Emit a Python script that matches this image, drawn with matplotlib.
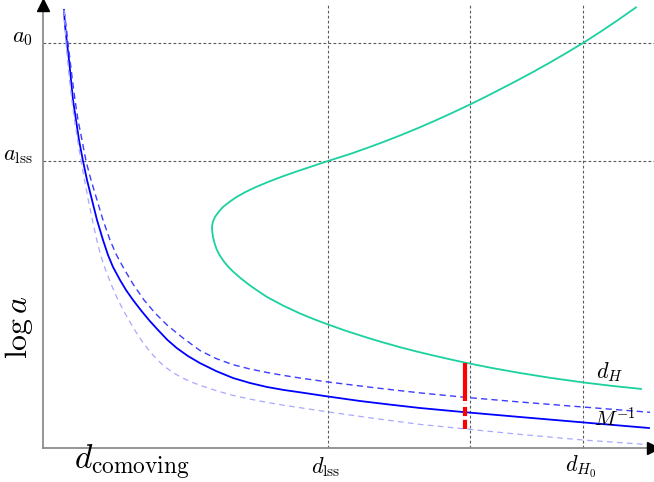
import numpy as np
import matplotlib
matplotlib.use('Agg')
import matplotlib.pyplot as plt

plt.rcParams['mathtext.fontset'] = 'cm'

# Hubble distance d_H (sideways parabola), upper branch then lower branch
dh_x = [593, 574, 557, 540, 524, 507, 490, 474, 457, 442, 427, 407, 390, 374, 357, 340, 324,
        307, 285, 267, 252, 238, 225, 213, 202.5, 193.5, 186.3, 180, 175.5, 172, 169.8, 169,
        169.3, 170, 171.5, 173.5, 176.5, 180.5, 185, 190, 198, 207, 215, 224, 240, 257,
        271, 285, 304, 324, 340, 357, 374, 390, 406, 422, 449, 477, 507, 540, 569, 598]
dh_y = [440.6, 427.3, 415.9, 405, 395.4, 385.5, 376, 367.4, 358.6, 350.9, 343.5, 334.1,
        326.4, 319.5, 312.5, 305.9, 300, 294, 287, 281, 276, 271, 266, 261, 256, 251,
        246, 241, 236, 231, 226, 221,
        216, 211, 205, 199, 193, 187, 181.5, 176.5, 169.5, 162.5, 157, 151, 142.5, 134.5,
        128.8, 123.5, 116.8, 110.4, 105.6, 100.8, 96.4, 92.6, 88.9, 85.4, 80, 75, 70.2,
        65.6, 62.1, 59.1]

# M^-1 curve (solid) and its two dashed companions
m_x = [21, 22, 24, 26, 28, 30, 33, 36, 40, 44, 49, 54, 60, 65, 70, 77, 83, 90, 98.5, 106.8,
       115, 124.5, 133.7, 144.9, 156.8, 173, 190, 207, 224, 241, 257, 285, 317, 347, 377,
       422, 477, 540, 606]
m_y = [438, 423, 405, 388, 368, 348, 328, 308, 287, 268, 248, 228, 208, 193, 181, 168, 158,
       148, 137, 127, 118, 108, 100, 92, 85, 77, 70, 65, 61, 58, 55.7, 51.5, 47, 43.4, 40,
       35.8, 31, 25.6, 20]

m_hi_x = [21, 23, 25, 27, 29.4, 32, 35, 39, 43, 48, 54, 60, 67, 73, 80, 90, 101, 112, 124,
          140, 157, 173, 190, 207, 224, 241, 257, 285, 332, 377, 422, 477, 540, 607]
m_hi_y = [438, 423, 405, 388, 368, 348, 328, 308, 287, 268, 248, 228, 208, 194, 181, 164,
          148, 135, 123, 110, 97.5, 89.5, 83.3, 79, 75.5, 72.5, 70, 66, 60.2, 55.1, 50.7,
          46, 41, 35.7]

m_lo_x = [21, 22, 23, 24.5, 26.5, 28.8, 31.5, 34.6, 38, 41.5, 45.3, 49.4, 53.8, 57.3, 61.5,
          68, 75, 82, 90, 95, 100, 107, 114, 119, 124, 130, 137, 147, 157, 173, 190, 207,
          224, 241, 257, 285, 332, 377, 422, 477, 540, 611]
m_lo_y = [438, 423, 405, 388, 368, 348, 328, 308, 287, 268, 248, 228, 208, 194, 181, 164,
          148, 134.7, 120.7, 112.7, 105.4, 96.3, 88.6, 83.8, 79.7, 75.5, 71.3, 66.5, 62.7,
          57.4, 52.6, 48.9, 45.6, 42.7, 40.3, 36.1, 29.5, 23.6, 19.1, 13.6, 8, 3]

# reference levels
a_levels = [405, 287]
a_labels = [r'$a_0$', r'$a_{\rm lss}$']
d_levels = [285, 427, 540]
d_labels = [r'$d_{\rm lss}$', '', r'$d_{H_0}$']

# red marker segment at fixed distance
red_x = 422
red_solid = [85, 47]
red_dash = [19, 45]

fig = plt.figure(figsize=(6.54, 4.82), dpi=100)
ax = fig.add_axes([43 / 654, 34 / 482, 611 / 654, 448 / 482])
ax.set_xlim(0, 611)
ax.set_ylim(0, 448)
for s in ['top', 'right']:
  ax.spines[s].set_visible(False)
for s in ['left', 'bottom']:
  ax.spines[s].set_color('0.55')
  ax.spines[s].set_linewidth(1.3)
ax.set_xticks([])
ax.set_yticks([])

# axis arrows
ax.plot([610], [0], marker='>', color='k', ms=9, clip_on=False, zorder=5)
ax.plot([0], [443], marker='^', color='k', ms=9, clip_on=False, zorder=5)

grid_kw = dict(color='0.35', lw=0.8, ls=(0, (2.5, 2)), zorder=1)
for y in a_levels:
  ax.plot([0, 611], [y, y], clip_on=False, **grid_kw)
for x in d_levels:
  ax.plot([x, x], [0, 444], clip_on=False, **grid_kw)

ax.plot(dh_x, dh_y, color='#1ad19f', lw=1.3, zorder=3)
ax.plot(m_x, m_y, color='#0000ff', lw=1.3, zorder=3)
ax.plot(m_hi_x, m_hi_y, color='#3c3cff', lw=1.0, ls=(0, (4.5, 3)), zorder=3)
ax.plot(m_lo_x, m_lo_y, color='#a8a8ff', lw=0.9, ls=(0, (4.5, 3.5)), zorder=3)

ax.plot([red_x, red_x], red_solid, color='red', lw=3, solid_capstyle='butt', zorder=4)
ax.plot([red_x, red_x], red_dash, color='red', lw=3, ls=(0, (2.2, 0.9)), zorder=4)

for y, lab in zip(a_levels, a_labels):
  ax.text(-10, y + 5, lab, ha='right', va='center', fontsize=16)
for x, lab in zip(d_levels, d_labels):
  ax.text(x - 2, -19, lab, ha='center', va='center', fontsize=16)

ax.text(89, -14, r'$d_{\rm comoving}$', ha='center', va='center', fontsize=24)
ax.text(-24, 121, r'$\log a$', ha='center', va='center', fontsize=23, rotation=90)
ax.text(572, 29, r'$M^{-1}$', ha='center', va='center', fontsize=15)
ax.text(567, 76, r'$d_H$', ha='center', va='center', fontsize=16)

fig.savefig('out.png', dpi=100)
